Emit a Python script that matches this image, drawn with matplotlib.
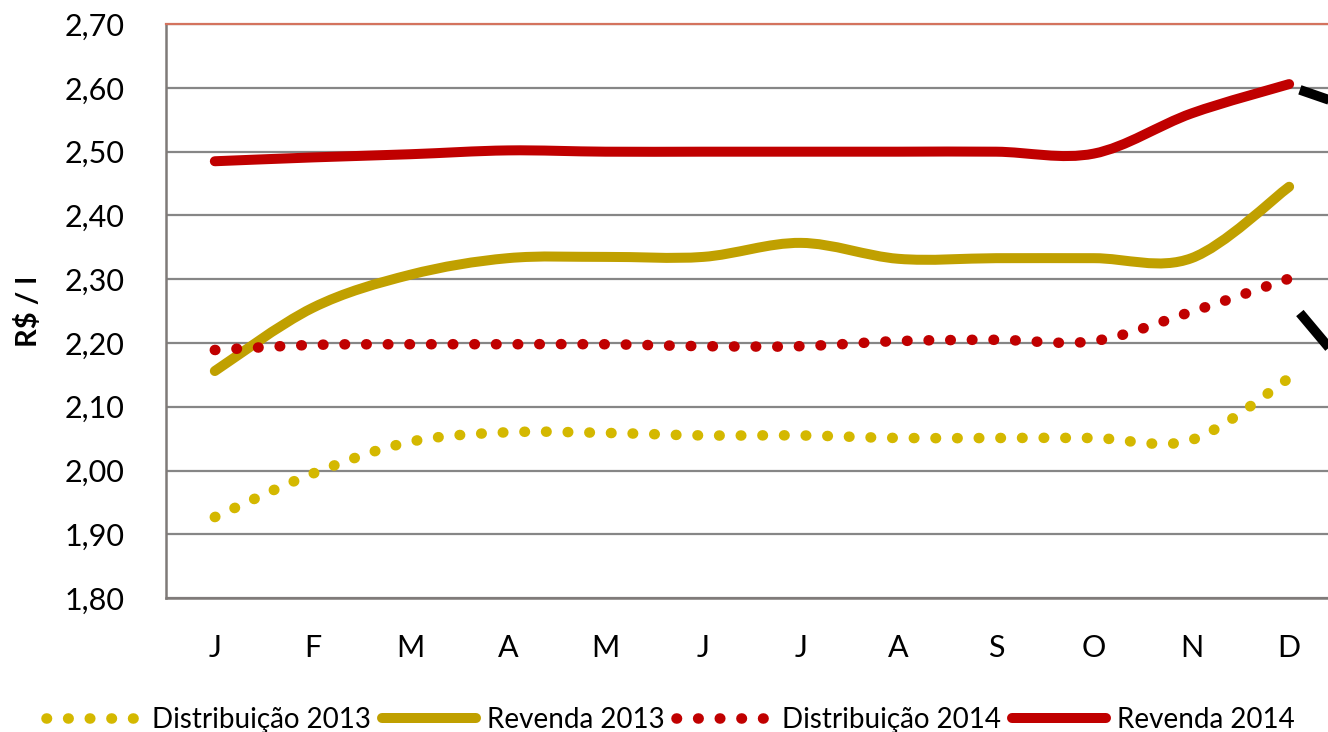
import matplotlib.pyplot as plt
from matplotlib.path import Path
from matplotlib.patches import PathPatch
from matplotlib.lines import Line2D
import numpy as np

months = ['J', 'F', 'M', 'A', 'M', 'J', 'J', 'A', 'S', 'O', 'N', 'D']

dist_2013 = [1.927, 1.995, 2.045, 2.060, 2.059, 2.055, 2.055, 2.051, 2.051, 2.051, 2.048, 2.145]
rev_2013 = [2.156, 2.255, 2.307, 2.333, 2.335, 2.335, 2.357, 2.332, 2.333, 2.333, 2.333, 2.445]
dist_2014 = [2.189, 2.197, 2.198, 2.198, 2.198, 2.195, 2.195, 2.203, 2.205, 2.203, 2.249, 2.301]
rev_2014 = [2.485, 2.491, 2.496, 2.502, 2.500, 2.500, 2.500, 2.500, 2.500, 2.497, 2.560, 2.606]

gold_dot = '#D4B800'
gold = '#C0A000'
red = '#C00000'

plt.rcParams['font.family'] = ['Lato', 'DejaVu Sans']


def smooth_path(xs, ys):
    # excel-like smoothed line: cubic bezier through the points
    p = np.column_stack([xs, ys]).astype(float)
    n = len(p)
    verts = [p[0]]
    codes = [Path.MOVETO]
    for i in range(n - 1):
        p0 = p[i - 1] if i > 0 else p[i]
        p3 = p[i + 2] if i + 2 < n else p[i + 1]
        c1 = p[i] + (p[i + 1] - p0) / 6
        c2 = p[i + 1] - (p3 - p[i]) / 6
        verts += [c1, c2, p[i + 1]]
        codes += [Path.CURVE4] * 3
    return Path(verts, codes)


fig = plt.figure(figsize=(13.28, 7.32), dpi=100)
ax = fig.add_axes([0.125, 0.183, 0.8825, 0.784])

x = np.arange(len(months))
dots = (0, (0.05, 2.0))
series = [
    (dist_2013, gold_dot, dots, 'Distribuição 2013'),
    (rev_2013, gold, '-', 'Revenda 2013'),
    (dist_2014, red, dots, 'Distribuição 2014'),
    (rev_2014, red, '-', 'Revenda 2014'),
]
handles = []
for vals, col, ls, lab in series:
    lw = 7.6 if ls == dots else 7.2
    patch = PathPatch(smooth_path(x, vals), fill=False, edgecolor=col, lw=lw,
                      linestyle=ls, capstyle='round', joinstyle='round', zorder=3)
    ax.add_patch(patch)
    handles.append(Line2D([], [], color=col, lw=lw, linestyle=ls,
                          dash_capstyle='round', solid_capstyle='round', label=lab))

# black callout strokes at the right edge
ax.plot([11.11, 11.45], [2.597, 2.579], color='black', lw=7, solid_capstyle='butt', clip_on=False)
ax.plot([11.11, 11.45], [2.247, 2.185], color='black', lw=7, solid_capstyle='butt', clip_on=False)

ax.set_xlim(-0.5, 11.5)
ax.set_ylim(1.80, 2.70)
ax.set_xticks(x)
ax.set_xticklabels(months)
yt = np.round(np.arange(1.80, 2.701, 0.10), 2)
ax.set_yticks(yt)
ax.set_yticklabels([f'{v:.2f}'.replace('.', ',') for v in yt])
ax.tick_params(length=0, labelsize=22)
ax.tick_params(axis='y', pad=30)
ax.tick_params(axis='x', pad=26)

ax.grid(axis='y', color='#868686', lw=1.6)
ax.set_axisbelow(True)
for s in ['left', 'bottom']:
    ax.spines[s].set_color('#7f7a78')
    ax.spines[s].set_linewidth(1.8)
ax.spines['top'].set_color('#D4735E')
ax.spines['top'].set_linewidth(1.6)
ax.spines['right'].set_visible(False)

ax.set_ylabel('R$ / l', fontsize=21, fontweight='bold', labelpad=16)

fig.legend(handles=handles, loc='lower center', bbox_to_anchor=(0.505, -0.035), ncol=4,
           frameon=False, fontsize=20, handlelength=3.4, handletextpad=0.4,
           columnspacing=0.4)

fig.savefig('out.png', dpi=100)
